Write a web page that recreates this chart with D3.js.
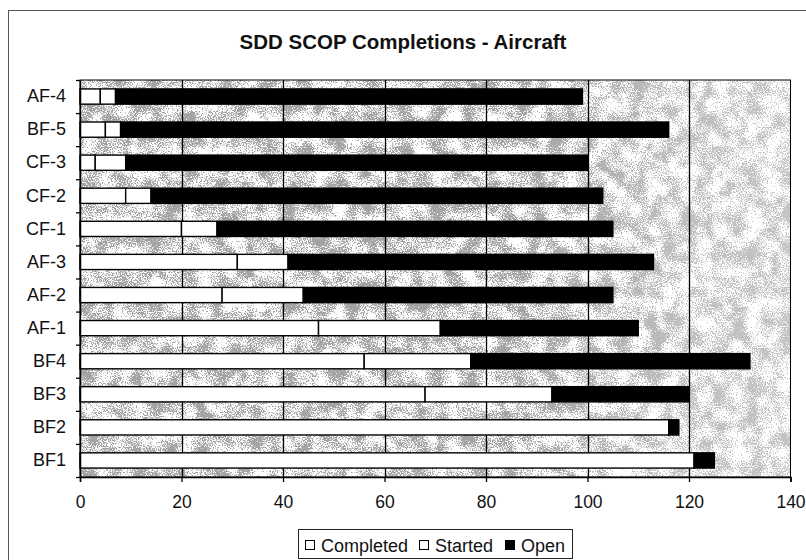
<!DOCTYPE html>
<html>
<head>
<meta charset="utf-8">
<script src="https://cdn.jsdelivr.net/npm/d3@7"></script>
<style>
  html, body { margin: 0; padding: 0; background: #fff; }
  svg { display: block; font-family: Arial, "Liberation Sans", sans-serif; }
</style>
</head>
<body>
<svg id="chart" width="806" height="560"></svg>
<script>
// Aircraft rows, listed top to bottom
const categories = ["AF-4", "BF-5", "CF-3", "CF-2", "CF-1", "AF-3", "AF-2", "AF-1", "BF4", "BF3", "BF2", "BF1"];
const completed  = [4, 5, 3, 9, 20, 31, 28, 47, 56, 68, 116, 121];
const started    = [3, 3, 6, 5, 7, 10, 16, 24, 21, 25, 0, 0];
const open       = [92, 108, 91, 89, 78, 72, 61, 39, 55, 27, 2, 4];
const seriesNames = ["Completed", "Started", "Open"];
const xTicks = [0, 20, 40, 60, 80, 100, 120, 140];
const titleText = "SDD SCOP Completions - Aircraft";

const svg = d3.select("#chart");
const margin = { left: 80, right: 16, top: 80, bottom: 83 };
const plotW = 790.5 - margin.left;
const plotH = 477 - margin.top;

// Speckled grey fill for the plot area
const defs = svg.append("defs");
const f = defs.append("filter").attr("id", "mottle")
  .attr("x", 0).attr("y", 0).attr("width", 1).attr("height", 1)
  .attr("color-interpolation-filters", "sRGB");
f.append("feTurbulence").attr("type", "fractalNoise").attr("baseFrequency", "0.8")
  .attr("numOctaves", 1).attr("seed", 7).attr("result", "fine");
f.append("feTurbulence").attr("type", "fractalNoise").attr("baseFrequency", "0.06")
  .attr("numOctaves", 2).attr("seed", 3).attr("result", "coarse");
f.append("feComposite").attr("in", "fine").attr("in2", "coarse")
  .attr("operator", "arithmetic").attr("k1", 0).attr("k2", 0.6).attr("k3", 0.4).attr("k4", -0.04)
  .attr("result", "mix");
f.append("feColorMatrix").attr("in", "mix").attr("type", "matrix")
  .attr("values", "0 0 0 0 0.64  0 0 0 0 0.64  0 0 0 0 0.64  12 0 0 0 -5.1");

// Lighter wash toward the right side of the plot
const grad = defs.append("linearGradient").attr("id", "wash").attr("x1", 0).attr("x2", 1).attr("y1", 0).attr("y2", 0);
grad.append("stop").attr("offset", "0").attr("stop-color", "#fff").attr("stop-opacity", 0);
grad.append("stop").attr("offset", "0.62").attr("stop-color", "#fff").attr("stop-opacity", 0);
grad.append("stop").attr("offset", "0.85").attr("stop-color", "#fff").attr("stop-opacity", 0.3);
grad.append("stop").attr("offset", "1").attr("stop-color", "#fff").attr("stop-opacity", 0.35);

// Outer frame
svg.append("rect").attr("x", 8.5).attr("y", 10.5).attr("width", 820).attr("height", 600)
  .attr("fill", "#fff").attr("stroke", "#555").attr("stroke-width", 1);

// Title
svg.append("text").attr("x", 403).attr("y", 49).attr("text-anchor", "middle")
  .attr("font-size", 20.5).attr("font-weight", "bold").attr("fill", "#111")
  .text(titleText);

const g = svg.append("g").attr("transform", `translate(${margin.left},${margin.top})`);

const x = d3.scaleLinear().domain([0, 140]).range([0, plotW]);
const y = d3.scaleBand().domain(categories).range([0, plotH]).paddingInner(0.54).paddingOuter(0.27);
const yEdge = d3.scaleLinear().domain([0, categories.length]).range([0, plotH]);

// Plot background
g.append("rect").attr("width", plotW).attr("height", plotH).attr("fill", "#fff");
g.append("rect").attr("width", plotW).attr("height", plotH).attr("fill", "#fff")
  .attr("filter", "url(#mottle)");
g.append("rect").attr("width", plotW).attr("height", plotH).attr("fill", "url(#wash)");

// Vertical gridlines
g.append("g").selectAll("line").data(xTicks.filter(t => t > 0 && t < 140)).join("line")
  .attr("x1", d => Math.round(x(d)) + 0.5).attr("x2", d => Math.round(x(d)) + 0.5)
  .attr("y1", 0).attr("y2", plotH).attr("stroke", "#000").attr("stroke-width", 1.3);

// Stacked bars
const rows = categories.map((c, i) => ({ cat: c, Completed: completed[i], Started: started[i], Open: open[i] }));
const stack = d3.stack().keys(seriesNames)(rows);
const fills = { Completed: "#fff", Started: "#fff", Open: "#000" };

g.append("g").selectAll("g").data(stack).join("g")
  .attr("fill", d => fills[d.key])
  .selectAll("rect").data(d => d.filter(s => s[1] - s[0] > 0)).join("rect")
  .attr("x", d => x(d[0]))
  .attr("y", d => y(d.data.cat))
  .attr("width", d => x(d[1]) - x(d[0]))
  .attr("height", y.bandwidth())
  .attr("stroke", "#000").attr("stroke-width", 1.4);

// Plot border
g.append("rect").attr("width", plotW).attr("height", plotH)
  .attr("fill", "none").attr("stroke", "#000").attr("stroke-width", 1);

// X axis
const xAxis = g.append("g").attr("transform", `translate(0,${plotH})`)
  .call(d3.axisBottom(x).tickValues(xTicks).tickSize(5).tickPadding(14).tickFormat(d3.format("d")));
xAxis.select(".domain").attr("stroke", "#000").attr("stroke-width", 1.5);
xAxis.selectAll(".tick line").attr("stroke", "#000").attr("stroke-width", 1.3);
xAxis.selectAll("text").attr("font-size", 17.5).attr("fill", "#111")
  .attr("font-family", "Arial, 'Liberation Sans', sans-serif");

// Y axis: labels centred on rows, ticks on row boundaries
const yAxis = g.append("g")
  .call(d3.axisLeft(y).tickSize(0).tickPadding(14));
yAxis.select(".domain").attr("stroke", "#000").attr("stroke-width", 1.5);
yAxis.selectAll("text").attr("font-size", 18).attr("fill", "#111")
  .attr("font-family", "Arial, 'Liberation Sans', sans-serif");
const yTickAxis = g.append("g")
  .call(d3.axisLeft(yEdge).ticks(categories.length).tickSize(4).tickFormat(""));
yTickAxis.select(".domain").remove();
yTickAxis.selectAll(".tick line").attr("stroke", "#000").attr("stroke-width", 1.3);

// Legend
const legend = svg.append("g").attr("transform", "translate(298,529)");
legend.append("rect").attr("x", 0.5).attr("y", 0.5).attr("width", 274).attr("height", 29)
  .attr("fill", "#fff").attr("stroke", "#222").attr("stroke-width", 1);
const legendX = [7, 121, 207];
seriesNames.forEach((name, i) => {
  const item = legend.append("g").attr("transform", `translate(${legendX[i]},0)`);
  item.append("rect").attr("x", 0.5).attr("y", 11.5).attr("width", 9).attr("height", 9)
    .attr("fill", fills[name]).attr("stroke", "#000").attr("stroke-width", 1);
  item.append("text").attr("x", 16).attr("y", 22.5).attr("font-size", 18).attr("fill", "#111")
    .text(name);
});
</script>
</body>
</html>
